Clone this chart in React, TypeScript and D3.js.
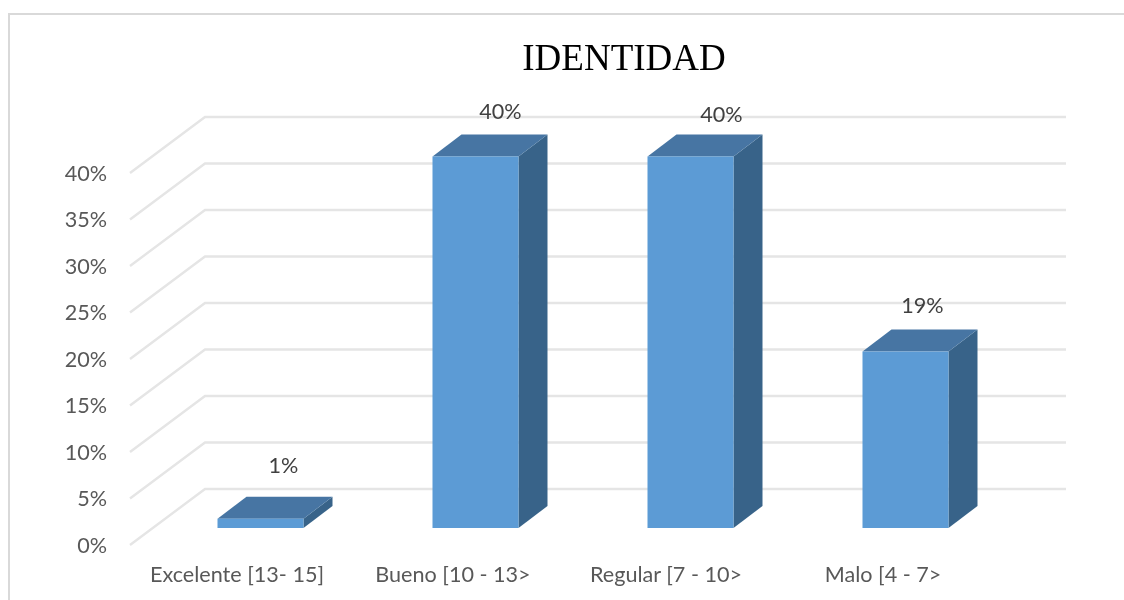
import React from "react";
import * as d3 from "d3";

const categories = ["Excelente [13- 15]", "Bueno [10 - 13>", "Regular [7 - 10>", "Malo [4 - 7>"];
const values = [1, 40, 40, 19];
const dataLabels = ["1%", "40%", "40%", "19%"];
const ticks = [0, 5, 10, 15, 20, 25, 30, 35, 40];
const title = "IDENTIDAD";
const labelCenters = [237, 453, 666, 883];
const dataLabelDx = [-2, 0, 6, -8];
const dataLabelDy = [46, 38, 35, 39];

const W = 1124, H = 600;
const x = d3.scaleBand<string>().domain(categories).range([153, 1013]).paddingInner(0.6).paddingOuter(0.3);
const yBar = d3.scaleLinear().domain([0, 40]).range([528, 156.5]);
const yFront = d3.scaleLinear().domain([0, 40]).range([545, 173]);
const yBack = d3.scaleLinear().domain([0, 40]).range([489, 117]);
const wallFrontX = 130, wallBackX = 205, wallRightX = 1066;
const depthX = 29, depthY = 22;
const font = "Lato, 'Open Sans', sans-serif";
const fontSize = 21.6;

const line = d3.line<[number, number]>();

export default function App() {
  const bw = x.bandwidth();
  return (
    <svg width={W} height={H} style={{ position: "absolute", left: 0, top: 0, background: "#fff" }}>
      <defs>
        <filter id="soft" x="-2%" y="-2%" width="104%" height="104%">
          <feGaussianBlur stdDeviation={0.5} />
        </filter>
      </defs>
      <g filter="url(#soft)">
        <path d={`M9,600V14H1124`} fill="none" stroke="#d9d9d9" strokeWidth={2} />
        <text x={624} y={70} textAnchor="middle" fontFamily="'Liberation Serif', serif" fontSize={37} fill="#000">{title}</text>
        {ticks.map((t) => (
          <path key={t} d={line([[wallFrontX, yFront(t)], [wallBackX, yBack(t)], [wallRightX, yBack(t)]]) ?? ""} fill="none" stroke="#e5e5e5" strokeWidth={2.4} />
        ))}
        {ticks.map((t) => (
          <text key={t} x={107} y={yFront(t) + 7.5} textAnchor="end" fontFamily={font} fontSize={fontSize} fill="#595959">{`${t}%`}</text>
        ))}
        {categories.map((c, i) => {
          const x0 = x(c) as number;
          const x1 = x0 + bw;
          const top = yBar(values[i]);
          const base = yBar(0);
          return (
            <g key={c}>
              <path d={`${line([[x1, top], [x1 + depthX, top - depthY], [x1 + depthX, base - depthY], [x1, base]])}Z`} fill="#386489" />
              <path d={`${line([[x0, top], [x0 + depthX, top - depthY], [x1 + depthX, top - depthY], [x1, top]])}Z`} fill="#4675a3" />
              <rect x={x0} y={top} width={bw} height={base - top} fill="#5b9bd5" />
              <text x={x1 - 18 + dataLabelDx[i]} y={top - dataLabelDy[i]} textAnchor="middle" fontFamily={font} fontSize={fontSize} fill="#404040">{dataLabels[i]}</text>
              <text x={labelCenters[i]} y={582} textAnchor="middle" fontFamily={font} fontSize={fontSize} fill="#595959">{c}</text>
            </g>
          );
        })}
      </g>
    </svg>
  );
}
